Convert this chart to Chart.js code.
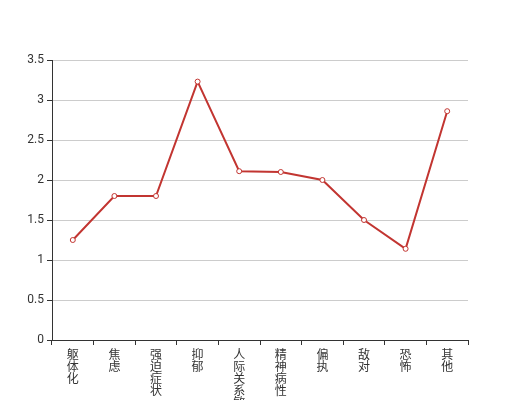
<!DOCTYPE html>
<html>
<head>
<meta charset="utf-8">
<script src="https://cdn.jsdelivr.net/npm/chart.js@4"></script>
<style>
  html, body { margin: 0; padding: 0; background: #fff; }
  #wrap { width: 520px; height: 400px; }
</style>
</head>
<body>
<div id="wrap"><canvas id="chart" width="520" height="400"></canvas></div>
<script>
const categories = ['躯体化', '焦虑', '强迫症状', '抑郁', '人际关系敏感', '精神病性', '偏执', '敌对', '恐怖', '其他'];
const scores = [1.25, 1.8, 1.8, 3.23, 2.11, 2.1, 2.0, 1.5, 1.14, 2.86];
const yTicks = [0, 0.5, 1, 1.5, 2, 2.5, 3, 3.5];

// vertical labels: one character per line
const verticalLabels = categories.map(c => c.split(''));

const ctx = document.getElementById('chart').getContext('2d');
new Chart(ctx, {
    type: 'line',
    data: {
        labels: verticalLabels,
        datasets: [{
            data: scores,
            borderColor: '#c23531',
            borderWidth: 2,
            backgroundColor: '#fff',
            pointBackgroundColor: '#fff',
            pointBorderColor: '#c23531',
            pointBorderWidth: 1,
            pointRadius: 2.5,
            tension: 0,
            fill: false
        }]
    },
    options: {
        responsive: false,
        animation: false,
        layout: { padding: { top: 60, right: 52, left: 0, bottom: 0 } },
        plugins: { legend: { display: false }, tooltip: { enabled: false } },
        scales: {
            x: {
                offset: true,
                grid: {
                    offset: true,
                    drawOnChartArea: false,
                    drawTicks: true,
                    tickLength: 5,
                    color: '#333'
                },
                border: { color: '#333', width: 1 },
                ticks: {
                    autoSkip: false,
                    maxRotation: 0,
                    minRotation: 0,
                    color: '#333',
                    padding: 3,
                    font: { size: 12, family: '"Noto Sans CJK SC", sans-serif', lineHeight: 1.0 }
                },
                afterFit: s => { s.height = 60; }
            },
            y: {
                min: 0,
                max: 3.5,
                afterBuildTicks: s => { s.ticks = yTicks.map(v => ({ value: v })); },
                grid: {
                    color: '#ccc',
                    tickLength: 5,
                    tickColor: '#333'
                },
                border: { color: '#333', width: 1 },
                ticks: {
                    color: '#333',
                    padding: 3,
                    font: { size: 12, family: 'Roboto, sans-serif' },
                    callback: v => String(v)
                },
                afterFit: s => { s.width = 52; }
            }
        }
    }
});
</script>
</body>
</html>
